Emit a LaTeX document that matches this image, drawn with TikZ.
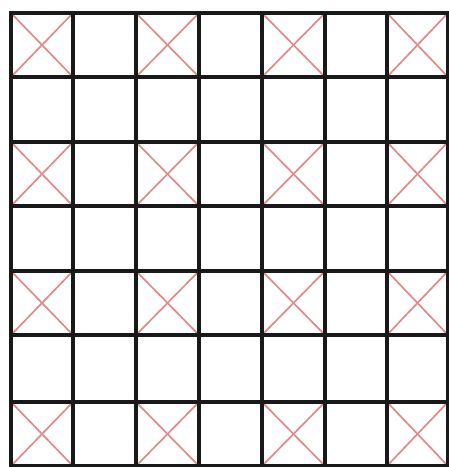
\documentclass[tikz,border=0pt]{standalone}
\definecolor{xred}{HTML}{E08A8A}
\begin{document}
\begin{tikzpicture}[x=1pt,y=-1pt,
  gridline/.style={black!90,line width=3.3pt,line cap=rect},
  crossline/.style={xred,line width=1.7pt}]
\useasboundingbox (0,0) rectangle (449,467);
\fill[white] (0,0) rectangle (449,467);
\def\xs{{11,73,136,199,262,325,387,448}}
\def\ys{{13,77,142,206,271,335,402,466}}
% red crosses
\foreach \i in {0,2,4,6}{
  \foreach \j in {0,2,4,6}{
    \pgfmathsetmacro\xa{\xs[\i]}
    \pgfmathsetmacro\xb{\xs[\i+1]}
    \pgfmathsetmacro\ya{\ys[\j]}
    \pgfmathsetmacro\yb{\ys[\j+1]}
    \draw[crossline] (\xa,\ya) -- (\xb,\yb);
    \draw[crossline] (\xa,\yb) -- (\xb,\ya);
  }
}
% grid
\foreach \k in {0,...,7}{
  \pgfmathsetmacro\xx{\xs[\k]}
  \pgfmathsetmacro\yy{\ys[\k]}
  \draw[gridline] (\xx,13) -- (\xx,466);
  \draw[gridline] (11,\yy) -- (448,\yy);
}
\end{tikzpicture}
\end{document}
